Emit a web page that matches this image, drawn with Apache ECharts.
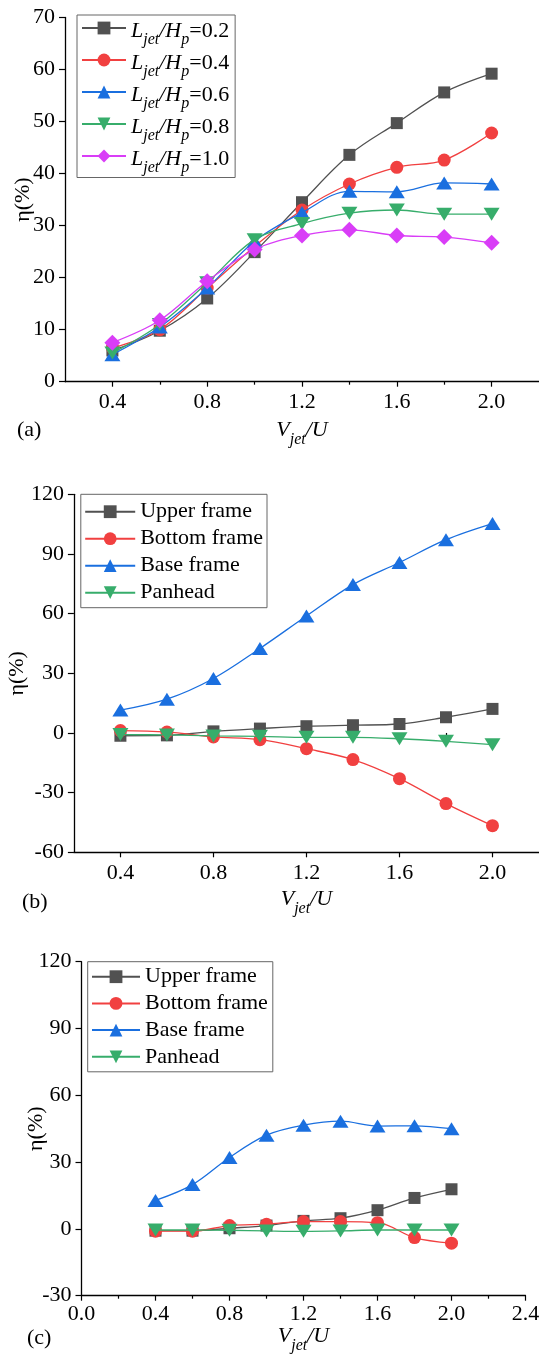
<!DOCTYPE html>
<html>
<head>
<meta charset="utf-8">
<script src="https://cdn.jsdelivr.net/npm/echarts@6/dist/echarts.min.js"></script>
<style>
  html, body { margin: 0; padding: 0; background: #fff; }
  #chart { width: 539px; height: 1356px; }
</style>
</head>
<body>
<div id="chart"></div>
<script>
// Jet velocity ratio Vjet/U (shared by all panels)
const velocityRatio = [0.4, 0.6, 0.8, 1.0, 1.2, 1.4, 1.6, 1.8, 2.0];

// (a) efficiency for different jet lengths Ljet/Hp
const jetLengths = ['0.2', '0.4', '0.6', '0.8', '1.0'];
const etaL02 = [6.0, 9.8, 16.0, 24.9, 34.5, 43.6, 49.7, 55.6, 59.2];
const etaL04 = [6.5, 10.0, 18.0, 26.0, 33.0, 38.0, 41.2, 42.6, 47.8];
const etaL06 = [5.2, 10.5, 18.0, 27.0, 32.5, 36.6, 36.5, 38.2, 38.0];
const etaL08 = [5.5, 11.0, 19.0, 27.3, 30.4, 32.4, 33.0, 32.2, 32.2];
const etaL10 = [7.5, 11.8, 19.3, 25.4, 28.1, 29.2, 28.1, 27.8, 26.7];

// (b) and (c) efficiency per structural part
const partNames = ['Upper frame', 'Bottom frame', 'Base frame', 'Panhead'];
const upperB  = [-1.4, -1.2, 0.8, 2.2, 3.4, 3.9, 4.5, 7.9, 12.1];
const bottomB = [1.2, 0.5, -2.0, -3.4, -7.9, -13.4, -23.0, -35.5, -46.6];
const baseB   = [11.5, 17.0, 27.4, 42.5, 58.8, 74.6, 85.7, 97.2, 105.3];
const panB    = [-0.8, -1.0, -1.5, -1.7, -2.2, -2.2, -2.9, -4.2, -5.9];

const upperC  = [-0.8, -0.8, 0.3, 1.5, 3.6, 4.8, 8.4, 13.9, 17.8];
const bottomC = [-1.0, -1.0, 1.5, 2.1, 3.3, 3.3, 2.8, -3.9, -6.4];
const baseC   = [12.8, 19.9, 32.1, 42.1, 46.6, 48.4, 46.2, 46.3, 45.0];
const panC    = [-0.5, -0.5, -0.6, -0.9, -1.1, -0.9, -0.5, -0.5, -0.5];

// axis tick values
const majorTicksAB = [0.4, 0.8, 1.2, 1.6, 2.0];
const minorTicksAB = [0.6, 1.0, 1.4, 1.8];

const SERIF = '"Liberation Serif", "Times New Roman", serif';
const COLORS = ['#515151', '#F14040', '#1A6FDF', '#37AD6B', '#D93DF7'];
const MARKS = [
  { symbol: 'rect', size: 12, rotate: 0 },
  { symbol: 'circle', size: 13, rotate: 0 },
  { symbol: 'triangle', size: [16, 13], rotate: 0 },
  { symbol: 'triangle', size: [16, 13], rotate: 180 },
  { symbol: 'diamond', size: [16, 16], rotate: 0 }
];

const richText = {
  i: { fontFamily: SERIF, fontSize: 22, fontStyle: 'italic', lineHeight: 24, padding: [4, 0, 0, 0], verticalAlign: 'top', color: '#000' },
  n: { fontFamily: SERIF, fontSize: 22, lineHeight: 24, padding: [4, 0, 0, 0], verticalAlign: 'top', color: '#000' },
  s: { fontFamily: SERIF, fontSize: 16, fontStyle: 'italic', lineHeight: 16, padding: [16, 0, 0, 0], verticalAlign: 'top', color: '#000' }
};
const vjetName = '{i|V}{s|jet}{i|/U}';

function pairs(ys) { return velocityRatio.map((x, k) => [x, ys[k]]); }

function lineSeries(name, ys, idx, grid) {
  const m = MARKS[idx];
  return {
    type: 'line', name: name, xAxisIndex: grid === 0 ? 0 : (grid === 1 ? 2 : 4), yAxisIndex: grid,
    data: pairs(ys), smooth: 0.35, symbol: m.symbol, symbolSize: m.size, symbolRotate: m.rotate,
    itemStyle: { color: COLORS[idx] }, lineStyle: { color: COLORS[idx], width: 1.3 },
    emphasis: { disabled: true }, z: 2 + idx
  };
}

const baseAxisLine = { show: true, onZero: false, lineStyle: { color: '#000', width: 1.3 } };
const tickLabelStyle = { fontFamily: SERIF, fontSize: 22, color: '#000' };

function yAxisFor(grid, min, max, interval, gap) {
  return {
    type: 'value', gridIndex: grid, min: min, max: max, interval: interval,
    axisLine: baseAxisLine, splitLine: { show: false },
    axisTick: { show: true, length: 6, lineStyle: { color: '#000', width: 1.2 } },
    axisLabel: Object.assign({ margin: 10 }, tickLabelStyle),
    name: 'η(%)', nameLocation: 'middle', nameRotate: 90, nameGap: gap, nameMoveOverlap: false,
    nameTextStyle: { fontFamily: SERIF, fontSize: 22, color: '#000' }
  };
}

function xAxisPair(grid, gap) {
  // main axis with labelled ticks, plus an overlay axis carrying the short minor ticks
  return [{
    type: 'value', gridIndex: grid, position: 'bottom', min: 0.2, max: 2.2, interval: 0.2,
    axisLine: baseAxisLine, splitLine: { show: false },
    axisTick: { show: true, length: 5, customValues: majorTicksAB, lineStyle: { color: '#000', width: 1.2 } },
    axisLabel: Object.assign({ margin: 10, customValues: majorTicksAB, formatter: v => v.toFixed(1) }, tickLabelStyle),
    name: vjetName, nameLocation: 'middle', nameGap: gap, nameMoveOverlap: false,
    nameTextStyle: { rich: richText }
  }, {
    type: 'value', gridIndex: grid, position: 'bottom', offset: 0, min: 0.2, max: 2.2, interval: 0.2,
    axisLine: { show: false }, splitLine: { show: false }, axisLabel: { show: false },
    axisTick: { show: true, length: 3, customValues: minorTicksAB, lineStyle: { color: '#000', width: 1.2 } }
  }];
}

const xAxes = [].concat(
  xAxisPair(0, 34),
  xAxisPair(1, 32),
  [{
    type: 'value', gridIndex: 2, position: 'bottom', min: 0, max: 2.4, interval: 0.4,
    axisLine: baseAxisLine, splitLine: { show: false },
    axisTick: { show: true, length: 5, lineStyle: { color: '#000', width: 1.2 } },
    minorTick: { show: true, splitNumber: 2, length: 3, lineStyle: { color: '#000', width: 1.2 } },
    minorSplitLine: { show: false },
    axisLabel: Object.assign({ margin: 8, formatter: v => v.toFixed(1) }, tickLabelStyle),
    name: vjetName, nameLocation: 'middle', nameGap: 26, nameMoveOverlap: false,
    nameTextStyle: { rich: richText }
  }, {
    type: 'value', gridIndex: 2, show: false, min: 0, max: 2.4
  }]
);

const seriesA = [etaL02, etaL04, etaL06, etaL08, etaL10].map((ys, k) =>
  lineSeries('Ljet/Hp=' + jetLengths[k], ys, k, 0));
const seriesB = [upperB, bottomB, baseB, panB].map((ys, k) => lineSeries(partNames[k], ys, k, 1));
const seriesC = [upperC, bottomC, baseC, panC].map((ys, k) => lineSeries(partNames[k], ys, k, 2));

const legendCommon = {
  orient: 'vertical', backgroundColor: '#fff', borderColor: '#666', borderWidth: 1,
  itemHeight: 16, selectedMode: false, inactiveColor: '#000', z: 10,
  textStyle: { fontFamily: SERIF, fontSize: 22, color: '#000', lineHeight: 22 }
};

const option = {
  animation: false,
  backgroundColor: '#fff',
  grid: [
    { left: 65, top: 17.5, width: 474, height: 364.2, outerBoundsMode: 'none' },
    { left: 73.9, top: 494.3, width: 465.1, height: 358, outerBoundsMode: 'none' },
    { left: 81.5, top: 961.7, width: 444, height: 334, outerBoundsMode: 'none' }
  ],
  xAxis: xAxes,
  yAxis: [
    yAxisFor(0, 0, 70, 10, 31),
    yAxisFor(1, -60, 120, 30, 46),
    yAxisFor(2, -30, 120, 30, 34)
  ],
  legend: [
    Object.assign({}, legendCommon, {
      left: 77, top: 15, itemWidth: 44, itemGap: 0, padding: [1, 6, 1.5, 4],
      data: seriesA.map(s => s.name),
      formatter: name => '{i|L}{s|jet}{i|/H}{s|p}{n|=' + name.split('=')[1] + '}',
      textStyle: { fontFamily: SERIF, fontSize: 22, color: '#000', rich: richText }
    }),
    Object.assign({}, legendCommon, {
      left: 80.8, top: 494.3, itemWidth: 50, itemGap: 5, padding: [6.4, 4, 4, 3.4],
      data: partNames
    }),
    Object.assign({}, legendCommon, {
      left: 87.7, top: 961.7, itemWidth: 48, itemGap: 4.7, padding: [4, 5, 4, 3.3],
      data: partNames.map(n => ({ name: n }))
    })
  ],
  graphic: [
    { type: 'text', left: 17, top: 419, style: { text: '(a)', font: '22px ' + SERIF, fill: '#000' } },
    { type: 'text', left: 22, top: 891, style: { text: '(b)', font: '22px ' + SERIF, fill: '#000' } },
    { type: 'text', left: 27, top: 1327, style: { text: '(c)', font: '22px ' + SERIF, fill: '#000' } }
  ],
  series: [].concat(seriesA, seriesB, seriesC)
};

const chart = echarts.init(document.getElementById('chart'), null, { renderer: 'canvas' });
chart.setOption(option);
</script>
</body>
</html>
